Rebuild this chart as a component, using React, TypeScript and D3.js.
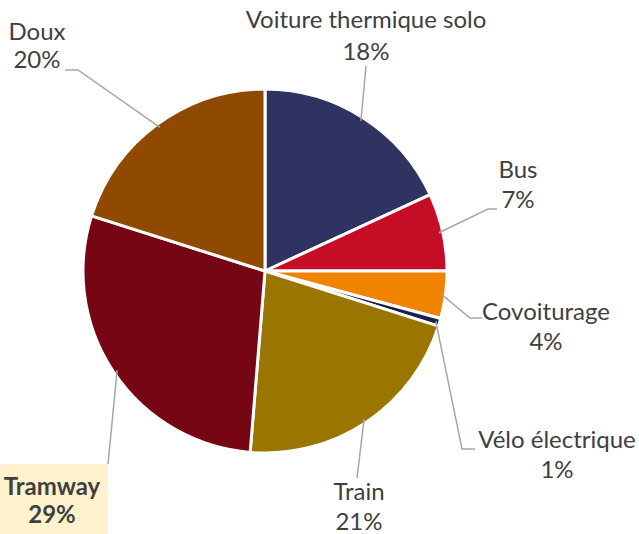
import React from "react";
import * as d3 from "d3";

const categories = ["Voiture thermique solo", "Bus", "Covoiturage", "Vélo électrique", "Train", "Tramway", "Doux"];
const values = [18.1, 6.9, 4.2, 0.7, 21.4, 28.6, 20.1];
const labels = ["18%", "7%", "4%", "1%", "21%", "29%", "20%"];
const colors = ["#2E3361", "#C50E26", "#F08300", "#1B2148", "#9A7500", "#760614", "#904A00"];

// label layout: text center x, first-line baseline y, line gap, leader elbow points
const labelLayout = [
  { x: 366, y: 28, gap: 32, elbow: [[366, 66]] },
  { x: 518, y: 178, gap: 30, elbow: [[488, 209], [497, 209]] },
  { x: 546, y: 320, gap: 30, elbow: [[470, 318], [482, 318]] },
  { x: 557, y: 448, gap: 30, elbow: [[462, 449], [475, 449]] },
  { x: 359, y: 500, gap: 30, elbow: [[357, 478]] },
  { x: 52, y: 495, gap: 28, elbow: [[108, 464]] },
  { x: 37, y: 40, gap: 28, elbow: [[78, 70], [65, 70]] },
];

const W = 639, H = 534;
const cx = 265, cy = 271, R = 182;

export default function App() {
  const pie = d3.pie<number>().sort(null).value((d) => d);
  const arcs = pie(values);
  const arc = d3.arc<d3.PieArcDatum<number>>().innerRadius(0).outerRadius(R);
  const font = "Lato, 'Open Sans', sans-serif";
  return (
    <svg width={W} height={H} style={{ position: "absolute", left: 0, top: 0 }}>
      <rect x={0} y={464} width={108} height={70} fill="#FFF2CC" />
      <g transform={`translate(${cx},${cy})`}>
        {arcs.map((a, i) => (
          <path key={i} d={arc(a) || ""} fill={colors[i]} stroke="#fff" strokeWidth={3} strokeLinejoin="round" />
        ))}
      </g>
      {arcs.map((a, i) => {
        const mid = (a.startAngle + a.endAngle) / 2;
        const px = cx + Math.sin(mid) * (R - 4);
        const py = cy - Math.cos(mid) * (R - 4);
        const pts = [[px, py], ...labelLayout[i].elbow];
        const line = d3.line()(pts as [number, number][]);
        return <path key={"l" + i} d={line || ""} fill="none" stroke="#A6A6A6" strokeWidth={1.5} />;
      })}
      {categories.map((c, i) => {
        const L = labelLayout[i];
        const bold = i === 5;
        return (
          <text key={"t" + i} x={L.x} y={L.y} textAnchor="middle" fontFamily={font} fontSize={24}
            fill="#404040" fontWeight={bold ? 700 : 400}>
            <tspan x={L.x}>{c}</tspan>
            <tspan x={L.x} dy={L.gap}>{labels[i]}</tspan>
          </text>
        );
      })}
    </svg>
  );
}
